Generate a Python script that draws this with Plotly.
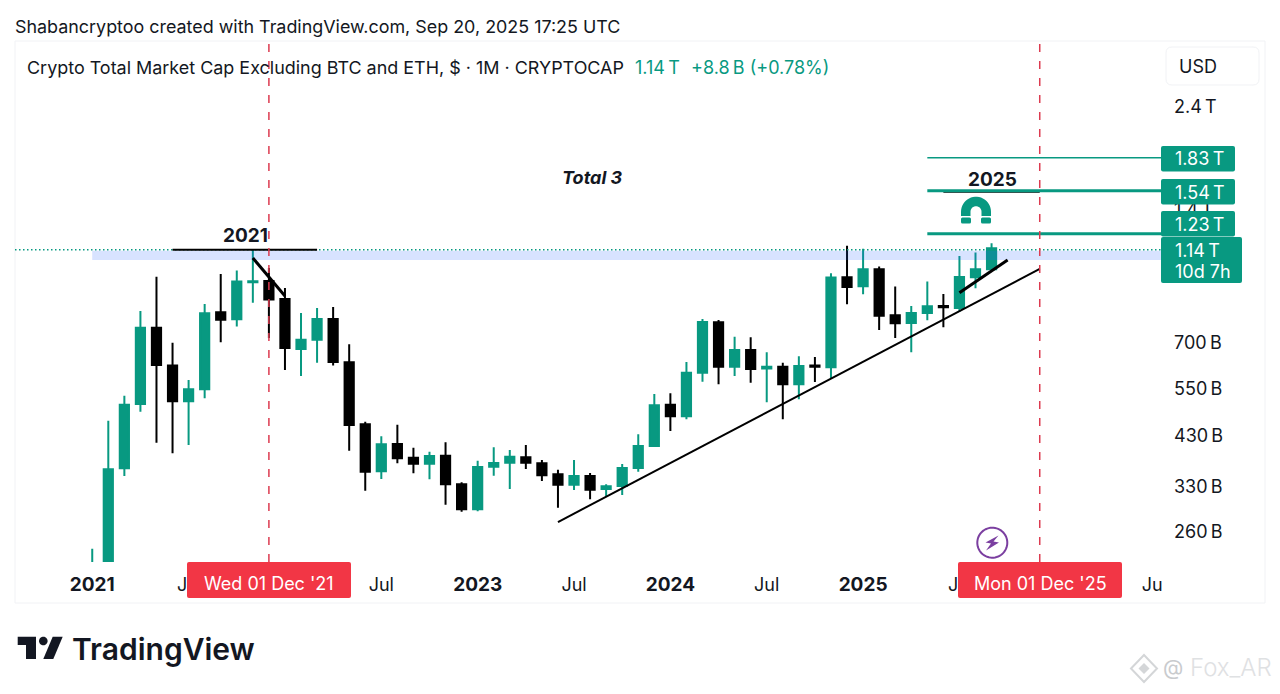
import numpy as np
import pandas as pd
import plotly.graph_objects as go

# monthly candles in billions USD, Jan 2021 .. Sep 2025
months = pd.date_range("2021-01-01", "2026-07-01", freq="MS").strftime("%Y-%m").tolist()
candle_months = months[:57]

opens = [140, 215, 361, 505, 752, 617.4, 512.4, 545.6, 816, 786.7, 954.7, 961.2,
         875, 673.6, 707, 788, 628, 454.4, 355.3, 409.8, 381.5, 369.8, 385.6, 331.9,
         291.3, 364, 371.7, 382.2, 370.5, 349.8, 331.2, 346.7, 323.9, 329, 361.5, 405.6,
         503, 473.8, 595, 774.5, 614, 670, 607.7, 614, 560, 618, 612, 980,
         935, 1022, 803.5, 771.6, 813, 843, 834.5, 980, 1022]
highs = [237, 463, 527, 821.7, 983, 696, 572.8, 852, 997, 1014.5, 1130, 1029,
         926.7, 813, 834.7, 839, 690, 460.5, 426.7, 453.4, 402, 393.6, 413.5, 335.4,
         375.6, 402.8, 397.2, 407.6, 377, 358.3, 377, 352.2, 331.9, 369.2, 431.2, 532.4,
         534.3, 629.3, 788, 784, 718.3, 716, 662, 627, 648.3, 646, 1000.7, 1156,
         1138, 1036, 933, 843, 957.7, 898, 1095, 1114.5, 1170]
lows = [135, 210, 346.7, 485, 412.6, 390.4, 407.6, 520.5, 697.6, 757, 858, 713.5,
        603.5, 585, 627, 617.4, 395.7, 321, 341.2, 370.5, 351.6, 340.7, 298.4, 287.7,
        288.3, 347.2, 323.9, 359.6, 337.7, 293.7, 322.2, 306.9, 311, 313.9, 354.6, 404,
        438.7, 466.3, 567.7, 560, 585, 564.7, 509.8, 466.3, 517.8, 566.8, 575.8, 851,
        896.6, 744, 713.5, 662, 782.6, 754.5, 817.4, 925, 1020]
closes = [215, 359, 503.4, 752, 619.6, 512.4, 545.6, 811.8, 785, 957.7, 959.7, 871.7,
          677, 707, 788, 629.3, 452.7, 354.6, 409.3, 380.3, 369.8, 385, 331.9, 291.3,
          363.4, 371, 383.5, 371.7, 348, 331.2, 346.7, 322.7, 328.4, 361.5, 405.6, 501.9,
          473.8, 595, 775.7, 614, 670, 606.7, 614, 560, 616, 614, 979, 931.6,
          1021.9, 801.7, 770.5, 813, 842, 837.5, 981.6, 1022, 1140]

# axis labels
price_ticks = [260, 330, 430, 550, 700, 1400, 2400]
price_labels = ["260\u2009B", "330\u2009B", "430\u2009B", "550\u2009B", "700\u2009B", "1.4\u2009T", "2.4\u2009T"]
time_ticks = ["2021-01", "2022-07", "2023-01", "2023-07", "2024-01", "2024-07", "2025-01", "2026-07"]
year = '<b style="font-size:19px">%s</b>'
time_labels = [year % "2021", "Jul", year % "2023", "Jul", year % "2024", "Jul", year % "2025", "Ju"]

# drawings on the chart
last_price = 1132
target_levels = [1830, 1540, 1230]
target_labels = ["1.83\u2009T", "1.54\u2009T", "1.23\u2009T"]
target_widths = [1.5, 3, 3]
band_low, band_high = 1072.8, 1125

GREEN = "#089981"
RED = "#f23645"
INK = "#131722"
FONT = "Inter"

# plot area in page pixels, used for the overlay bits only
PLOT_L, PLOT_R, PLOT_T, PLOT_B = 15, 1165, 41, 562
X_MIN, X_MAX = -4.81, 66.8


def px(x):
    return (x - PLOT_L) / (PLOT_R - PLOT_L)


def py(y):
    return (PLOT_B - y) / (PLOT_B - PLOT_T)


def path(points, close=True):
    d = "M" + " L".join(f"{px(x):.5f},{py(y):.5f}" for x, y in points)
    return d + (" Z" if close else "")


def rrect(x0, y0, x1, y1, r):
    q = lambda ax, ay, bx, by: f" Q{px(ax):.5f},{py(ay):.5f} {px(bx):.5f},{py(by):.5f}"
    d = f"M{px(x0 + r):.5f},{py(y0):.5f} L{px(x1 - r):.5f},{py(y0):.5f}" + q(x1, y0, x1, y0 + r)
    d += f" L{px(x1):.5f},{py(y1 - r):.5f}" + q(x1, y1, x1 - r, y1)
    d += f" L{px(x0 + r):.5f},{py(y1):.5f}" + q(x0, y1, x0, y1 - r)
    d += f" L{px(x0):.5f},{py(y0 + r):.5f}" + q(x0, y0, x0 + r, y0) + " Z"
    return d


def page_shape(d, fill=None, line=None, width=0, layer="above"):
    fig.add_shape(type="path", path=d, xref="paper", yref="paper", layer=layer,
                  fillcolor=fill, line=dict(color=line, width=width))


def text(s, x, y, size=18, color=INK, anchor="left", **font):
    # annotations sit about a pixel to the right of where they are asked to
    fig.add_annotation(text=s, x=px(x - 1 if anchor == "left" else x), y=py(y), xref="paper", yref="paper",
                       showarrow=False, xanchor=anchor, yanchor="middle", borderpad=0, align="left",
                       font=dict(family=FONT, size=size, color=color, **font))


def segment(m0, v0, m1, v1, color="black", width=2, dash="solid"):
    fig.add_shape(type="line", x0=m0, x1=m1, y0=v0, y1=v1, xref="x", yref="y", layer="above",
                  line=dict(color=color, width=width, dash=dash))


fig = go.Figure()
fig.add_trace(go.Candlestick(
    x=candle_months, open=opens, high=highs, low=lows, close=closes,
    increasing=dict(line=dict(color=GREEN, width=2), fillcolor=GREEN),
    decreasing=dict(line=dict(color="black", width=2), fillcolor="black"),
    whiskerwidth=0, showlegend=False,
))

fig.update_layout(
    width=1280, height=694, autosize=False, showlegend=False,
    margin=dict(l=PLOT_L, r=1280 - PLOT_R, t=PLOT_T, b=694 - PLOT_B, pad=0),
    paper_bgcolor="white", plot_bgcolor="white", boxgap=0.18,
    font=dict(family=FONT, size=18, color=INK),
    xaxis=dict(type="category", categoryorder="array", categoryarray=months,
               range=[X_MIN, X_MAX], rangeslider=dict(visible=False),
               tickmode="array", tickvals=time_ticks, ticktext=time_labels, tickangle=0,
               showgrid=False, zeroline=False, showline=False, ticks="",
               ticklabelstandoff=10, tickfont=dict(family=FONT, size=18, color=INK)),
    yaxis=dict(type="log", side="right", range=[2.3446, 3.5276],
               tickmode="array", tickvals=price_ticks, ticktext=price_labels,
               showgrid=False, zeroline=False, showline=False, ticks="",
               ticklabelstandoff=8, ticklabelshift=1, tickfont=dict(family=FONT, size=18, color=INK)),
)

# frame round the chart, currency box
page_shape(f"M{px(15)},{py(41)} L{px(1265)},{py(41)} L{px(1265)},{py(603)} L{px(15)},{py(603)} Z",
           line="#f1f2f5", width=1, layer="below")
page_shape(rrect(1166, 47, 1259, 85, 6), line="#f1f2f5", width=1)

# last price, support zone and targets
segment(X_MIN, last_price, X_MAX, last_price, color=GREEN, width=1.5, dash="1.5px,2.5px")
fig.add_shape(type="rect", x0=0, x1=X_MAX, xref="x", yref="y", y0=band_low, y1=band_high,
              layer="above", fillcolor="rgba(41,98,255,0.18)", line=dict(width=0))
segment("2025-06", 1530, "2025-12", 1530, width=1.5)
for level, w in zip(target_levels, target_widths):
    segment("2025-05", level, X_MAX, level, color=GREEN, width=w)

# trend lines
segment("2021-06", last_price, "2022-03", last_price)
segment("2023-06", 272.5, "2025-12", 1023.5)
segment("2021-11", 1084, "2022-01", 888.7, width=3)
segment("2025-07", 904, "2025-10", 1072.8, width=3)

# the two cycle dates
for m in ["2021-12", "2025-12"]:
    segment(m, 10 ** 2.3446, m, 10 ** 3.5276, color="#dc3b50", width=1.5, dash="8px,9px")

# price labels sitting on the axis
for lab, top in zip(target_labels, [146, 179, 211]):
    page_shape(rrect(1161, top, 1235, top + 25.5, 2), fill=GREEN)
    text(lab, 1175, top + 13, color="white")
page_shape(rrect(1161, 237, 1242, 283, 2), fill=GREEN)
text("1.14\u2009T", 1175, 250, color="white")
text("10d 7h", 1175, 271, color="white")

# the Jul labels that the date boxes cut short
text("J", 177, 584)
text("J", 948, 584)
for m, x, lab in [("2021-12", 269, "Wed 01 Dec '21"), ("2025-12", 1040, "Mon 01 Dec '25")]:
    page_shape(rrect(x - 82, 562, x + 82, 598, 2), fill=RED)
    text(lab, x, 583, color="white", anchor="center")

# header lines
text("Shabancryptoo created with TradingView.com, Sep 20, 2025 17:25 UTC", 15, 27, size=17.9)
text("Crypto Total Market Cap Excluding BTC and ETH, $ · 1M · CRYPTOCAP", 27, 67, size=17.95)
text("1.14\u2009T", 635, 67, size=18, color=GREEN)
text("+8.8\u2009B (+0.78%)", 691, 67, size=18, color=GREEN)
text("USD", 1179, 66, size=18)

# text written on the chart
text("<b><i>Total 3</i></b>", 592.5, 178, size=18, anchor="center")
text("<b>2021</b>", 245, 235, size=19, anchor="center")
text("<b>2025</b>", 992, 179, size=19, anchor="center")

# magnet
arc_out = [(976 - 15 * np.cos(a), 211.7 - 15 * np.sin(a)) for a in np.linspace(0, np.pi, 24)]
arc_in = [(976 + 5.5 * np.cos(a), 211.7 - 5.5 * np.sin(a)) for a in np.linspace(0, np.pi, 16)]
page_shape(path([(961, 216)] + arc_out + [(991, 216), (981.5, 216)] + arc_in + [(970.5, 216)]), fill=GREEN)
page_shape(rrect(961, 217.5, 971, 223.5, 1.5), fill=GREEN)
page_shape(rrect(981, 217.5, 991, 223.5, 1.5), fill=GREEN)

# lightning badge
cx, cy, r = 992.3, 542.7, 15
ring = [(cx + r * np.cos(a), cy + r * np.sin(a)) for a in np.linspace(0, 2 * np.pi, 60)]
page_shape(path(ring), line="#7b3fa0", width=2)
page_shape(path([(998.5, 535.5), (985.5, 542.5), (991, 543.5), (986, 550.5), (999, 542.5), (993.5, 541.5)]),
           fill="#7b3fa0")

# TradingView logo
LOGO = "#131722"
page_shape(path([(17.7, 636.7), (36, 636.7), (36, 659), (26, 659), (26, 645), (17.7, 645)]), fill=LOGO)
page_shape(path([(62.7, 636.7), (53.3, 659), (43.3, 659), (52.7, 636.7)]), fill=LOGO)
dot = [(43.3 + 4.3 * np.cos(a), 641 + 4.3 * np.sin(a)) for a in np.linspace(0, 2 * np.pi, 30)]
page_shape(path(dot), fill=LOGO)
text("TradingView", 72, 649, size=30, color=LOGO, weight=600)

# watermark
mark = "#d4d6d8"
page_shape(path([(1144, 655), (1157, 668.5), (1144, 682), (1131, 668.5)]), line=mark, width=2)
page_shape(path([(1144, 663), (1149.5, 668.5), (1144, 674), (1138.5, 668.5)]), fill=mark)
text("@", 1163, 667, size=21, color="#c9cbce")
text("Fox_AR", 1190, 667, size=24, color="#dfe1e3", weight=300)

fig.write_html("out.html", config={"displayModeBar": False}, post_script="document.body.style.margin='0';")
